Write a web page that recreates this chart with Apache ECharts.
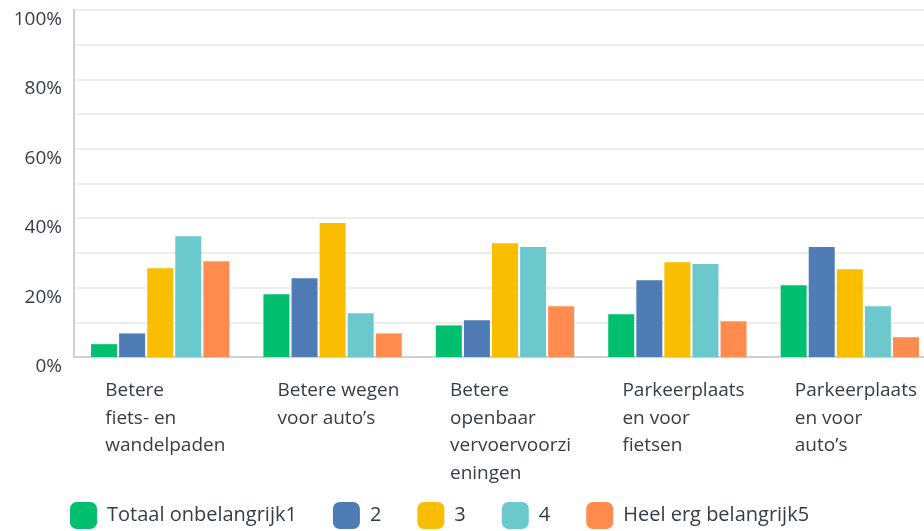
<!DOCTYPE html>
<html>
<head>
<meta charset="utf-8">
<script src="https://cdn.jsdelivr.net/npm/echarts@6/dist/echarts.min.js"></script>
<style>
  html, body { margin: 0; padding: 0; background: #fff; }
  #chart { width: 924px; height: 531px; }
</style>
</head>
<body>
<div id="chart"></div>
<script>
// categories (line breaks as shown under the axis)
var categories = [
  'Betere\nfiets- en\nwandelpaden',
  'Betere wegen\nvoor auto\u2019s',
  'Betere\nopenbaar\nvervoervoorzi\neningen',
  'Parkeerplaats\nen voor\nfietsen',
  'Parkeerplaats\nen voor\nauto\u2019s'
];
var seriesNames = ['Totaal onbelangrijk1', '2', '3', '4', 'Heel erg belangrijk5'];
var colors = ['#00bf6f', '#507cb6', '#f9be00', '#6bc8cd', '#ff8b4f'];

// percentages per answer option
var totaalOnbelangrijk = [3.7, 18.1, 9.1, 12.3, 20.7];
var score2 = [6.8, 22.7, 10.6, 22.1, 31.7];
var score3 = [25.6, 38.6, 32.8, 27.3, 25.3];
var score4 = [34.8, 12.6, 31.7, 26.8, 14.6];
var heelErgBelangrijk = [27.6, 6.8, 14.6, 10.3, 5.7];

var values = [totaalOnbelangrijk, score2, score3, score4, heelErgBelangrijk];

var textColor = '#333e48';
var font = '"Open Sans", sans-serif';

var myChart = echarts.init(document.getElementById('chart'));

var option = {
  animation: false,
  textStyle: { fontFamily: font },
  grid: { left: 74, top: 10, width: 862, bottom: 174, containLabel: false, outerBoundsMode: 'none' },
  legend: {
    left: 70,
    top: 502,
    padding: 0,
    itemWidth: 27,
    itemHeight: 27,
    itemGap: 36,
    icon: 'roundRect',
    textStyle: { color: textColor, fontSize: 20, fontFamily: font, padding: [0, 0, 0, 5] },
    data: seriesNames
  },
  xAxis: {
    type: 'category',
    data: categories,
    axisTick: { show: false },
    axisLine: { lineStyle: { color: '#d0d0d0', width: 2 } },
    axisLabel: {
      interval: 0,
      margin: 20,
      align: 'center',
      formatter: function (v) {
        return v.split('\n').map(function (l) { return '{a|' + l + '}'; }).join('\n');
      },
      rich: {
        a: { width: 110, align: 'left', fontSize: 19, lineHeight: 27.5, color: textColor, fontFamily: font }
      }
    }
  },
  yAxis: {
    type: 'value',
    min: 0,
    max: 100,
    interval: 10,
    axisLine: { show: true, lineStyle: { color: '#d0d0d0', width: 2 } },
    axisTick: { show: false },
    splitLine: { lineStyle: { color: '#ededed', width: 2 } },
    axisLabel: {
      margin: 12,
      color: textColor,
      fontSize: 19,
      verticalAlign: 'top',
      formatter: function (v) { return v % 20 === 0 ? v + '%' : ''; }
    }
  },
  series: seriesNames.map(function (name, i) {
    return {
      name: name,
      type: 'bar',
      barWidth: 26,
      barGap: '8%',
      itemStyle: { color: colors[i] },
      data: values[i]
    };
  })
};

myChart.setOption(option);
</script>
</body>
</html>
